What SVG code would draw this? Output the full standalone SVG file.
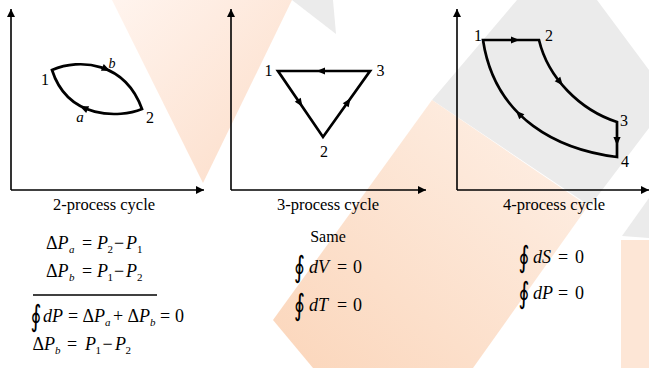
<svg xmlns="http://www.w3.org/2000/svg" xmlns:xlink="http://www.w3.org/1999/xlink" width="649" height="368" viewBox="0 0 649 368">
<style>
  .ax{stroke:#000;stroke-width:1.6;fill:none}
  .cv{stroke:#000;stroke-width:2.7;fill:none;stroke-linejoin:miter}
  text{font-family:"Liberation Serif","Times New Roman",serif;fill:#000}
  .lbl{font-size:16px;text-anchor:middle}
  .cap{font-size:16.5px;text-anchor:middle}
  .m{font-size:18px}
  .i{font-style:italic}
  .s{font-size:11px}
  text.oint{font-family:"DejaVu Serif","DejaVu Sans",serif;font-size:21px;text-anchor:middle}
  .wg{fill:#ebebeb}
</style>
<defs>
  <marker id="axh" viewBox="0 0 10 10" refX="10" refY="5" markerUnits="userSpaceOnUse" markerWidth="9" markerHeight="8" orient="auto">
    <path d="M0,0 L10,5 L0,10 Z" fill="#000"/>
  </marker>
  <path id="ah" d="M4.5,0 L-4,-3.6 L-4,3.6 Z" fill="#000"/>
  <linearGradient id="gA" x1="0" y1="0" x2="1" y2="1">
    <stop offset="0" stop-color="#fff4ee"/>
    <stop offset="1" stop-color="#fcdcc7"/>
  </linearGradient>
  <linearGradient id="gC" x1="0" y1="1" x2="1" y2="0">
    <stop offset="0" stop-color="#fbd6bb"/>
    <stop offset="1" stop-color="#fef1e8"/>
  </linearGradient>
</defs>
<rect width="649" height="368" fill="#fff"/>
<g id="watermark">
  <polygon fill="url(#gA)" points="112,0 292,0 203,183"/>
  <polygon class="wg" points="292,0 333,0 336,34"/>
  <polygon class="wg" points="517,0 597,0 649,70 649,128 590,206 432,100"/>
  <polygon fill="url(#gC)" points="432,100 588,206 473,368 313,368 273,320"/>
  <polygon class="wg" points="622,236 649,198 649,238"/>
  <polygon fill="#fde6d6" points="621,240 649,240 649,368 621,368"/>
</g>
<g id="axes">
  <path class="ax" d="M11,190 V9" marker-end="url(#axh)"/>
  <path class="ax" d="M11,190 H204" marker-end="url(#axh)"/>
  <path class="ax" d="M231,190 V9" marker-end="url(#axh)"/>
  <path class="ax" d="M231,190 H426" marker-end="url(#axh)"/>
  <path class="ax" d="M457,190 V9" marker-end="url(#axh)"/>
  <path class="ax" d="M457,190 H649" marker-end="url(#axh)"/>
</g>
<g id="connectors">
  <path id="cycle2" class="cv" d="M52,70 C80,58 125,62 142,109 C120,118 68,120 52,70 Z"/>
  <use xlink:href="#ah" href="#ah" transform="translate(106,69) rotate(23)"/>
  <use xlink:href="#ah" href="#ah" transform="translate(84,108) rotate(204)"/>
  <path id="cycle3" class="cv" d="M278,71 L370,71 L323,137 Z"/>
  <use xlink:href="#ah" href="#ah" transform="translate(321,71) rotate(180)"/>
  <use xlink:href="#ah" href="#ah" transform="translate(300,103) rotate(56)"/>
  <use xlink:href="#ah" href="#ah" transform="translate(348,102) rotate(-55)"/>
  <path id="cycle4" class="cv" d="M483,40 L539,40 C548,78 580,110 617,122 L617,157 C560,150 495,120 483,40 Z"/>
  <use xlink:href="#ah" href="#ah" transform="translate(515,40)"/>
  <use xlink:href="#ah" href="#ah" transform="translate(560,82) rotate(51)"/>
  <use xlink:href="#ah" href="#ah" transform="translate(617,141) rotate(90)"/>
  <use xlink:href="#ah" href="#ah" transform="translate(519,114) rotate(225)"/>
</g>
<g id="plot1-labels">
  <text class="lbl" x="45" y="85">1</text>
  <text class="lbl" x="150" y="123">2</text>
  <text class="lbl i" x="112" y="68" style="font-size:14px">b</text>
  <text class="lbl i" x="80" y="121.5" style="font-size:15px">a</text>
  <text class="cap" x="104" y="210">2-process cycle</text>
</g>
<g id="plot2-labels">
  <text class="lbl" x="268.5" y="76">1</text>
  <text class="lbl" x="380.5" y="76">3</text>
  <text class="lbl" x="324" y="156.5">2</text>
  <text class="cap" x="328" y="210">3-process cycle</text>
</g>
<g id="plot3-labels">
  <text class="lbl" x="478" y="40.5">1</text>
  <text class="lbl" x="549" y="40.5">2</text>
  <text class="lbl" x="624" y="125.5">3</text>
  <text class="lbl" x="625" y="167">4</text>
  <text class="cap" x="554" y="210">4-process cycle</text>
</g>
<g id="formulas-2">
  <text class="m" y="249"><tspan x="46">Δ</tspan><tspan class="i" x="57.5">P</tspan><tspan class="i s" x="69" y="253">a</tspan><tspan x="82" y="249">=</tspan><tspan class="i" x="97">P</tspan><tspan class="s" x="107.5" y="253">2</tspan><tspan x="114" y="249">−</tspan><tspan class="i" x="126">P</tspan><tspan class="s" x="137" y="253">1</tspan></text>
  <text class="m" y="277"><tspan x="46">Δ</tspan><tspan class="i" x="57.5">P</tspan><tspan class="i s" x="69" y="281">b</tspan><tspan x="82" y="277">=</tspan><tspan class="i" x="97">P</tspan><tspan class="s" x="107.5" y="281">1</tspan><tspan x="114" y="277">−</tspan><tspan class="i" x="126">P</tspan><tspan class="s" x="137" y="281">2</tspan></text>
  <line x1="33" y1="295" x2="157" y2="295" stroke="#000" stroke-width="1.4"/>
  <text class="oint" transform="translate(36,326) scale(1,1.4)">∮</text>
  <text class="m" y="322"><tspan class="i" x="43">d</tspan><tspan class="i" x="52">P</tspan><tspan x="68">=</tspan><tspan x="82.5">Δ</tspan><tspan class="i" x="94">P</tspan><tspan class="i s" x="105" y="326">a</tspan><tspan x="113" y="322">+</tspan><tspan x="127.5">Δ</tspan><tspan class="i" x="139">P</tspan><tspan class="i s" x="150" y="326">b</tspan><tspan x="160" y="322">=</tspan><tspan x="175">0</tspan></text>
  <text class="m" y="350"><tspan x="32.5">Δ</tspan><tspan class="i" x="44">P</tspan><tspan class="i s" x="55" y="354">b</tspan><tspan x="67" y="350">=</tspan><tspan class="i" x="85">P</tspan><tspan class="s" x="95.5" y="354">1</tspan><tspan x="102.5" y="350">−</tspan><tspan class="i" x="115">P</tspan><tspan class="s" x="125.5" y="354">2</tspan></text>
</g>
<g id="formulas-3">
  <text class="lbl" x="328" y="242">Same</text>
  <text class="oint" transform="translate(299.5,277) scale(1,1.4)">∮</text>
  <text class="m" y="273"><tspan class="i" x="309">d</tspan><tspan class="i" x="318">V</tspan><tspan x="337">=</tspan><tspan x="353">0</tspan></text>
  <text class="oint" transform="translate(299.5,315) scale(1,1.4)">∮</text>
  <text class="m" y="311"><tspan class="i" x="309">d</tspan><tspan class="i" x="318">T</tspan><tspan x="337">=</tspan><tspan x="353">0</tspan></text>
</g>
<g id="formulas-4">
  <text class="oint" transform="translate(524,267) scale(1,1.4)">∮</text>
  <text class="m" y="263"><tspan class="i" x="533">d</tspan><tspan class="i" x="542">S</tspan><tspan x="558">=</tspan><tspan x="575">0</tspan></text>
  <text class="oint" transform="translate(524,303) scale(1,1.4)">∮</text>
  <text class="m" y="299"><tspan class="i" x="533">d</tspan><tspan class="i" x="542">P</tspan><tspan x="558">=</tspan><tspan x="575">0</tspan></text>
</g>
</svg>
